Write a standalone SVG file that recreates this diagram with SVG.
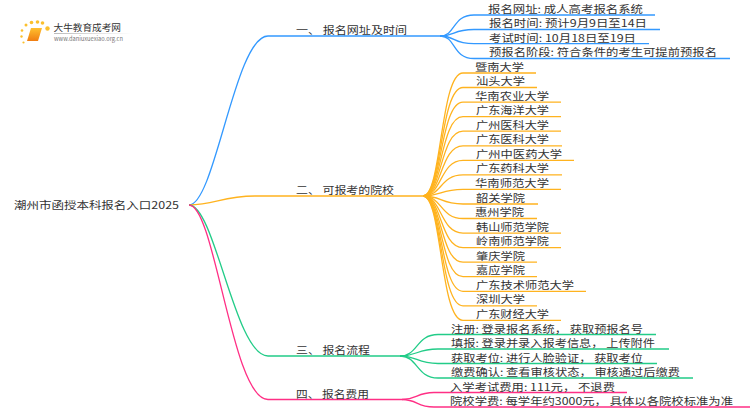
<svg xmlns="http://www.w3.org/2000/svg" width="750" height="410" viewBox="0 0 750 410">
<style>
text{font-family:"Noto Sans CJK SC","Liberation Sans",sans-serif;font-size:10px;fill:#333}
path{fill:none}
.b path{stroke:#3399ff;stroke-width:1.3}
.y path{stroke:#ffb31f;stroke-width:1.3}
.g path{stroke:#22cc88;stroke-width:1.3}
.p path{stroke:#ff2f85;stroke-width:1.3}
</style>
<defs>
<linearGradient id="fade"><stop offset="0" stop-color="#bbb"/><stop offset="1" stop-color="#bbb" stop-opacity="0"/></linearGradient>
<linearGradient id="bk" x1="0" y1="0" x2="0" y2="1"><stop offset="0" stop-color="#ffc02e"/><stop offset="1" stop-color="#f07d12"/></linearGradient>
</defs>
<rect width="750" height="410" fill="#fff"/>
<g id="connectors">
<g class="b">
<path d="M189 205C215 205 235 36 268 36H440"/>
<path d="M440 36C456 36 452 15 474 15H655"/>
<path d="M440 36C456 36 452 29.500 474 29.500H660"/>
<path d="M440 36C456 36 452 43.700 474 43.700H649"/>
<path d="M440 36C456 36 452 58.500 474 58.500H730"/>
</g>
<g class="y">
<path d="M189 205C215 205 222 196 255 196H423"/>
<path d="M423 196C442 196 440 73 463 73H536"/>
<path d="M423 196C442 196 440 87.500 463 87.500H537"/>
<path d="M423 196C442 196 440 102.100 463 102.100H561"/>
<path d="M423 196C442 196 440 116.700 463 116.700H561"/>
<path d="M423 196C442 196 440 131.200 463 131.200H561"/>
<path d="M423 196C442 196 440 145.800 463 145.800H562"/>
<path d="M423 196C442 196 440 160.300 463 160.300H574"/>
<path d="M423 196C442 196 440 174.900 463 174.900H562"/>
<path d="M423 196C442 196 440 189.400 463 189.400H561"/>
<path d="M423 196C442 196 440 204 463 204H538"/>
<path d="M423 196C442 196 440 218.500 463 218.500H537"/>
<path d="M423 196C442 196 440 233.100 463 233.100H561"/>
<path d="M423 196C442 196 440 247.600 463 247.600H561"/>
<path d="M423 196C442 196 440 262.200 463 262.200H537"/>
<path d="M423 196C442 196 440 276.700 463 276.700H537"/>
<path d="M423 196C442 196 440 291.300 463 291.300H586"/>
<path d="M423 196C442 196 440 305.800 463 305.800H537"/>
<path d="M423 196C442 196 440 320.400 463 320.400H561"/>
</g>
<g class="g">
<path d="M189 205C215 205 235 356 268 356H400"/>
<path d="M400 356C418 356 416 334.500 438 334.500H656"/>
<path d="M400 356C418 356 416 349 438 349H669"/>
<path d="M400 356C418 356 416 363.500 438 363.500H657"/>
<path d="M400 356C418 356 416 378 438 378H693"/>
</g>
<g class="p">
<path d="M189 205C215 205 232 399.500 268 399.500H402"/>
<path d="M402 399.500C418 399.500 416 392.500 434 392.500H627"/>
<path d="M402 399.500C418 399.500 416 407 434 407H750"/>
</g>
</g>
<g id="logo">
<g fill="#fbc02d">
<circle cx="47.500" cy="28.500" r="2.200"/><circle cx="42.500" cy="23" r="1.800"/><circle cx="37.500" cy="22" r="1.800"/><circle cx="31.500" cy="22.500" r="1.800"/><circle cx="26" cy="25" r="1.500"/><circle cx="22" cy="30.500" r="1.300"/><circle cx="21.500" cy="36.500" r="1.200"/><circle cx="23.500" cy="42.500" r="1.100"/>
</g>
<path d="M31 28H42L38 41H27Z" style="fill:url(#bk)"/>
<text x="53.500" y="31" textLength="67.500" lengthAdjust="spacingAndGlyphs" style="font-size:9px">大牛教育成考网</text>
<rect x="54" y="33" width="78" height="1" fill="url(#fade)"/>
<text x="54" y="41" textLength="69" lengthAdjust="spacingAndGlyphs" style="font-size:6px;fill:#777">www.daniuxuexiao.org.cn</text>
</g>
<g id="root"><text x="14" y="208.500" textLength="165" lengthAdjust="spacingAndGlyphs">潮州市函授本科报名入口2025</text></g>
<g id="b1"><text x="296" y="34" textLength="111" lengthAdjust="spacingAndGlyphs">一、 报名网址及时间</text></g>
<g id="b2"><text x="296" y="194" textLength="98" lengthAdjust="spacingAndGlyphs">二、 可报考的院校</text></g>
<g id="b3"><text x="296" y="353.500" textLength="74" lengthAdjust="spacingAndGlyphs">三、 报名流程</text></g>
<g id="b4"><text x="296" y="397.500" textLength="73" lengthAdjust="spacingAndGlyphs">四、 报名费用</text></g>
<g id="l1"><text x="488" y="12.500" textLength="155" lengthAdjust="spacingAndGlyphs">报名网址: 成人高考报名系统</text></g>
<g id="l2"><text x="489" y="27" textLength="158" lengthAdjust="spacingAndGlyphs">报名时间: 预计9月9日至14日</text></g>
<g id="l3"><text x="489" y="41.500" textLength="147" lengthAdjust="spacingAndGlyphs">考试时间: 10月18日至19日</text></g>
<g id="l4"><text x="489" y="56" textLength="228" lengthAdjust="spacingAndGlyphs">预报名阶段: 符合条件的考生可提前预报名</text></g>
<g id="s1"><text x="475" y="70.500" textLength="49" lengthAdjust="spacingAndGlyphs">暨南大学</text></g>
<g id="s2"><text x="476" y="85" textLength="49" lengthAdjust="spacingAndGlyphs">汕头大学</text></g>
<g id="s3"><text x="475" y="99.500" textLength="74" lengthAdjust="spacingAndGlyphs">华南农业大学</text></g>
<g id="s4"><text x="476" y="114" textLength="73" lengthAdjust="spacingAndGlyphs">广东海洋大学</text></g>
<g id="s5"><text x="476" y="128.700" textLength="73" lengthAdjust="spacingAndGlyphs">广州医科大学</text></g>
<g id="s6"><text x="476" y="143.300" textLength="73" lengthAdjust="spacingAndGlyphs">广东医科大学</text></g>
<g id="s7"><text x="476" y="157.800" textLength="86" lengthAdjust="spacingAndGlyphs">广州中医药大学</text></g>
<g id="s8"><text x="476" y="172.400" textLength="73" lengthAdjust="spacingAndGlyphs">广东药科大学</text></g>
<g id="s9"><text x="475" y="186.900" textLength="74" lengthAdjust="spacingAndGlyphs">华南师范大学</text></g>
<g id="s10"><text x="476" y="201.500" textLength="49" lengthAdjust="spacingAndGlyphs">韶关学院</text></g>
<g id="s11"><text x="475" y="216" textLength="49" lengthAdjust="spacingAndGlyphs">惠州学院</text></g>
<g id="s12"><text x="476" y="230.600" textLength="73" lengthAdjust="spacingAndGlyphs">韩山师范学院</text></g>
<g id="s13"><text x="476" y="245.100" textLength="73" lengthAdjust="spacingAndGlyphs">岭南师范学院</text></g>
<g id="s14"><text x="476" y="259.700" textLength="49" lengthAdjust="spacingAndGlyphs">肇庆学院</text></g>
<g id="s15"><text x="476" y="274.200" textLength="49" lengthAdjust="spacingAndGlyphs">嘉应学院</text></g>
<g id="s16"><text x="476" y="288.800" textLength="98" lengthAdjust="spacingAndGlyphs">广东技术师范大学</text></g>
<g id="s17"><text x="476" y="303.300" textLength="49" lengthAdjust="spacingAndGlyphs">深圳大学</text></g>
<g id="s18"><text x="476" y="317.900" textLength="73" lengthAdjust="spacingAndGlyphs">广东财经大学</text></g>
<g id="f1"><text x="451" y="332.500" textLength="192" lengthAdjust="spacingAndGlyphs">注册: 登录报名系统， 获取预报名号</text></g>
<g id="f2"><text x="451" y="347" textLength="204" lengthAdjust="spacingAndGlyphs">填报: 登录并录入报考信息， 上传附件</text></g>
<g id="f3"><text x="451" y="361.500" textLength="192" lengthAdjust="spacingAndGlyphs">获取考位: 进行人脸验证， 获取考位</text></g>
<g id="f4"><text x="451" y="376" textLength="229" lengthAdjust="spacingAndGlyphs">缴费确认: 查看审核状态， 审核通过后缴费</text></g>
<g id="c1"><text x="450" y="390.500" textLength="165" lengthAdjust="spacingAndGlyphs">入学考试费用: 111元， 不退费</text></g>
<g id="c2"><text x="450" y="404.500" textLength="283" lengthAdjust="spacingAndGlyphs">院校学费: 每学年约3000元， 具体以各院校标准为准</text></g>
</svg>
